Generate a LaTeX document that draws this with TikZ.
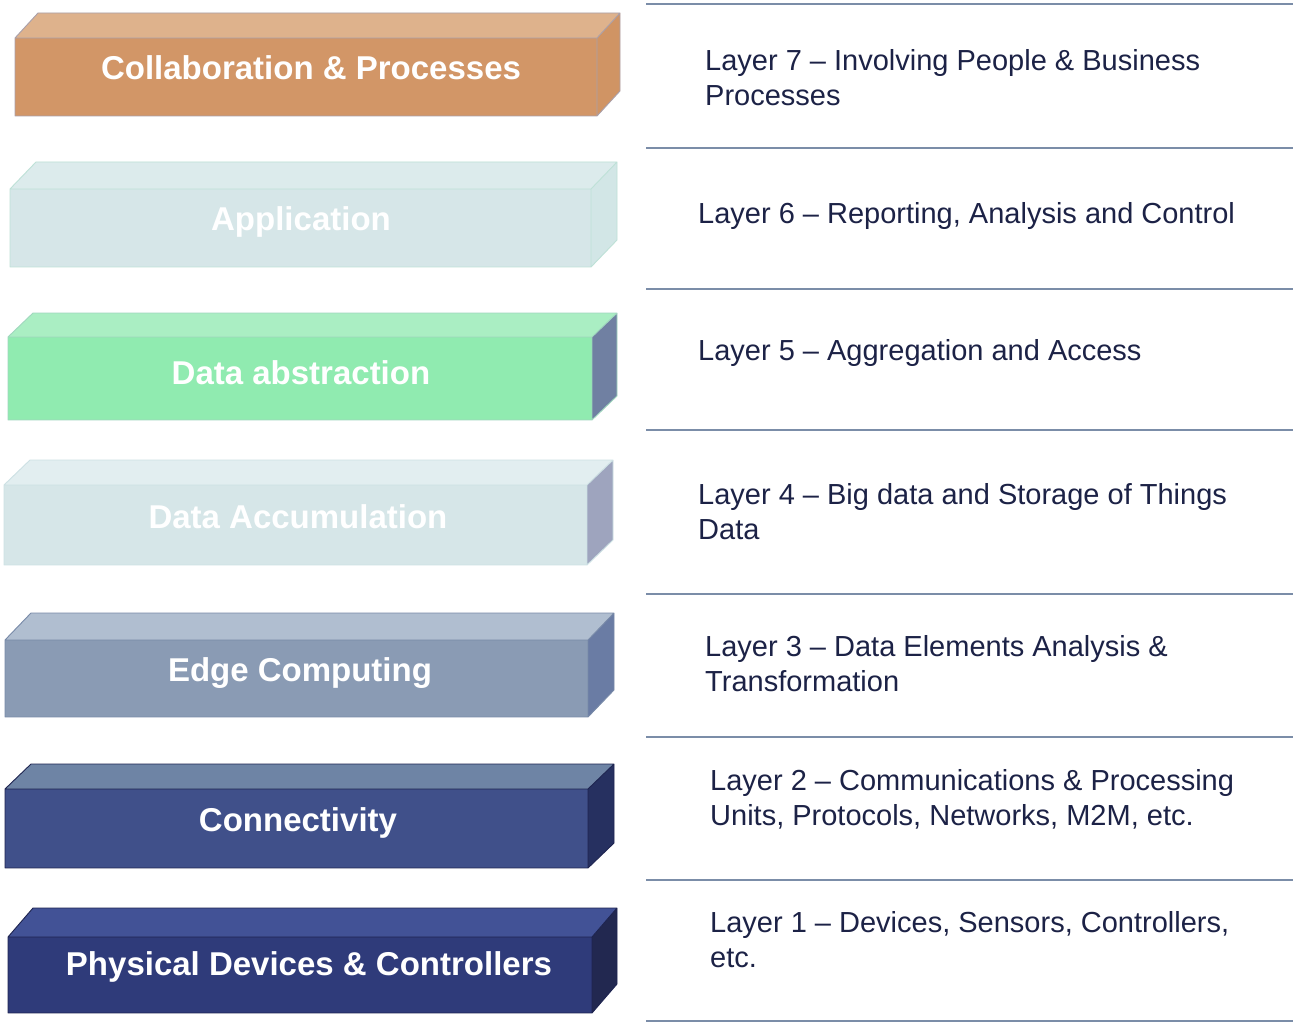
\documentclass[tikz,border=0pt]{standalone}
\usepackage{fontspec}
\setmainfont{Liberation Sans}
\begin{document}
\begin{tikzpicture}[x=1pt,y=-1pt,
  blocktext/.style={text=white,font=\fontsize{33}{38}\selectfont\bfseries,inner sep=0pt,anchor=base},
  layertext/.style={text=labelink,font=\fontsize{29}{35}\selectfont,align=left,anchor=west,inner sep=0pt},
  rule/.style={draw=rulecol,line width=2pt}]
\definecolor{labelink}{HTML}{1C2246}
\definecolor{rulecol}{HTML}{7B8DA8}
% per-block colours: front (F), top (T), side (S), outline (O)
\definecolor{collabF}{RGB}{210,150,103}\definecolor{collabT}{RGB}{222,178,140}
\definecolor{collabS}{RGB}{208,148,100}\definecolor{collabO}{RGB}{170,160,170}
\definecolor{appF}{RGB}{214,230,232}\definecolor{appT}{RGB}{220,235,236}
\definecolor{appS}{RGB}{210,230,230}\definecolor{appO}{RGB}{190,225,215}
\definecolor{abstrF}{RGB}{144,235,176}\definecolor{abstrT}{RGB}{170,238,195}
\definecolor{abstrS}{RGB}{112,128,162}\definecolor{abstrO}{RGB}{160,215,190}
\definecolor{accumF}{RGB}{214,230,232}\definecolor{accumT}{RGB}{226,238,240}
\definecolor{accumS}{RGB}{158,164,190}\definecolor{accumO}{RGB}{205,225,228}
\definecolor{edgeF}{RGB}{138,155,180}\definecolor{edgeT}{RGB}{176,190,208}
\definecolor{edgeS}{RGB}{106,124,164}\definecolor{edgeO}{RGB}{120,138,168}
\definecolor{connF}{RGB}{64,80,138}\definecolor{connT}{RGB}{110,132,165}
\definecolor{connS}{RGB}{38,48,96}\definecolor{connO}{RGB}{30,36,80}
\definecolor{physF}{RGB}{47,59,122}\definecolor{physT}{RGB}{66,82,150}
\definecolor{physS}{RGB}{34,40,80}\definecolor{physO}{RGB}{30,36,80}
% layer block: #1 name (also colour prefix), #2 left x, #3 top y, #4 front top y,
% #5 bottom y, #6 front right x, #7 back right x, #8 label, #9 label baseline position
\newcommand\layerblock[9]{%
  \pgfmathsetmacro\dep{#4-#3}%
  \pgfmathsetmacro\dx{#7-#6}%
  \fill[#1T] (#2,#4) -- (#2+\dx,#3) -- (#7,#3) -- (#6,#4) -- cycle;
  \fill[#1S] (#6,#4) -- (#7,#3) -- (#7,#5-\dep) -- (#6,#5) -- cycle;
  \fill[#1F] (#2,#4) rectangle (#6,#5);
  \draw[#1O,line width=0.9pt,line join=round]
    (#2,#4) -- (#2+\dx,#3) -- (#7,#3) -- (#7,#5-\dep) -- (#6,#5) -- (#2,#5) -- cycle
    (#2,#4) -- (#6,#4) -- (#7,#3) (#6,#4) -- (#6,#5);
  \node[blocktext] (#1) at #9 {#8};
}
\useasboundingbox (0,0) rectangle (1300,1027);
\fill[white] (0,0) rectangle (1300,1027);

\layerblock{collab}{15}{13}{38}{116}{597}{620}{Collaboration \& Processes}{(311,80)}
\layerblock{app}{10}{162}{189}{267}{591}{617}{Application}{(301,230)}
\layerblock{abstr}{8}{313}{337}{420}{592}{617}{Data abstraction}{(301,384)}
\layerblock{accum}{4}{460}{485}{565}{587}{613}{Data Accumulation}{(298,528)}
\layerblock{edge}{5}{613}{640}{717}{588}{614}{Edge Computing}{(300,681)}
\layerblock{conn}{5}{764}{789}{868}{588}{614}{Connectivity}{(298,831)}
\layerblock{phys}{8}{908}{937}{1013}{592}{617}{Physical Devices \& Controllers}{(309,975)}

% separator rules of the description column
\foreach \i/\y in {0/4,1/148,2/289,3/430,4/594,5/737,6/880,7/1021}{
  \coordinate (rl\i) at (646,\y);
  \coordinate (rr\i) at (1293,\y);
}
\foreach \i in {0,...,7}{ \draw[rule] (rl\i) -- (rr\i); }

% layer descriptions
\node[layertext] (d7) at (705,78) {Layer 7 -- Involving People \& Business\\Processes};
\node[layertext] (d6) at (698,216) {Layer 6 -- Reporting, Analysis and Control};
\node[layertext] (d5) at (698,353) {Layer 5 -- Aggregation and Access};
\node[layertext] (d4) at (698,512) {Layer 4 -- Big data and Storage of Things\\Data};
\node[layertext] (d3) at (705,664) {Layer 3 -- Data Elements Analysis \&\\Transformation};
\node[layertext] (d2) at (710,799) {Layer 2 -- Communications \& Processing\\Units, Protocols, Networks, M2M, etc.};
\node[layertext] (d1) at (710,940) {Layer 1 -- Devices, Sensors, Controllers,\\etc.};
\end{tikzpicture}
\end{document}
